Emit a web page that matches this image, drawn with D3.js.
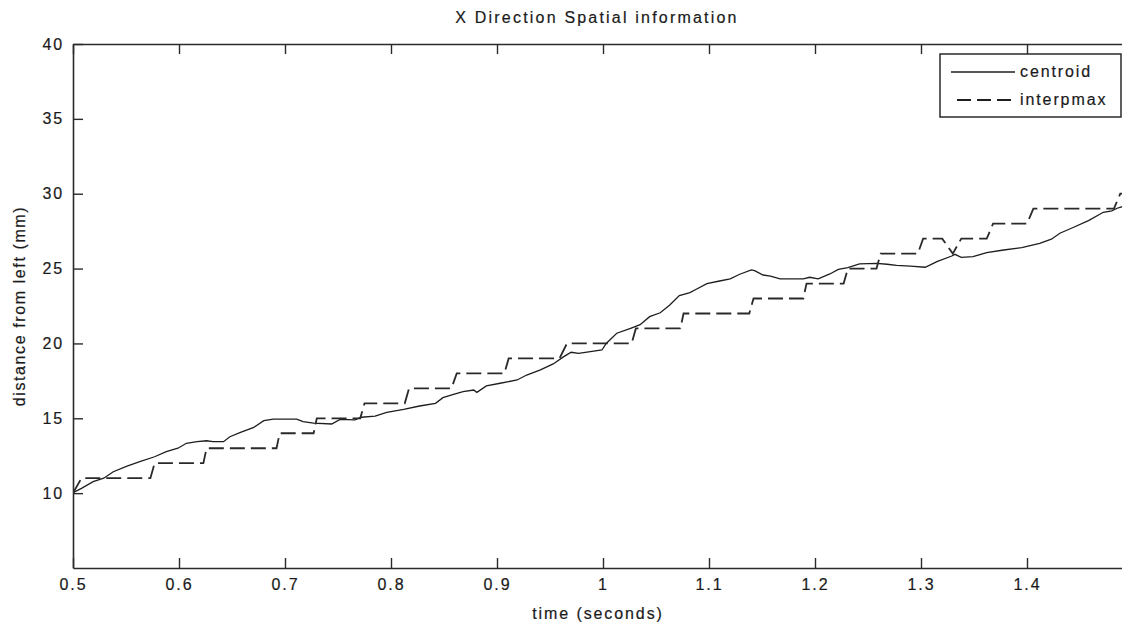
<!DOCTYPE html>
<html>
<head>
<meta charset="utf-8">
<script src="https://cdn.jsdelivr.net/npm/d3@7"></script>
<style>
  html, body { margin: 0; padding: 0; background: #fff; }
  svg text { font-family: "Liberation Sans", Arial, Helvetica, sans-serif; font-size: 16px; fill: #1a1a1a; letter-spacing: 1.9px; stroke: #1a1a1a; stroke-width: 0.2px; }
</style>
</head>
<body>
<svg width="1122" height="627"></svg>
<script>
// centroid: [time (s), distance (mm)]
var centroid = [
  [0.500,10.03],[0.508,10.32],[0.519,10.77],[0.529,11.00],[0.538,11.43],[0.551,11.81],
  [0.563,12.10],[0.577,12.43],[0.588,12.77],[0.599,13.00],[0.607,13.33],[0.617,13.44],
  [0.626,13.50],[0.632,13.44],[0.642,13.44],[0.648,13.77],[0.658,14.06],[0.670,14.37],
  [0.680,14.84],[0.689,14.95],[0.711,14.95],[0.717,14.78],[0.727,14.67],[0.744,14.62],
  [0.752,14.93],[0.766,14.89],[0.772,15.07],[0.785,15.15],[0.796,15.40],[0.812,15.60],
  [0.827,15.82],[0.842,16.00],[0.849,16.38],[0.859,16.60],[0.868,16.78],[0.878,16.89],
  [0.881,16.73],[0.890,17.16],[0.903,17.34],[0.919,17.56],[0.928,17.89],[0.941,18.23],
  [0.953,18.63],[0.963,19.12],[0.970,19.41],[0.977,19.34],[0.988,19.45],[0.999,19.56],
  [1.003,20.00],[1.013,20.68],[1.026,21.01],[1.035,21.25],[1.044,21.79],[1.054,22.05],
  [1.063,22.57],[1.072,23.20],[1.082,23.39],[1.088,23.62],[1.098,23.99],[1.110,24.17],
  [1.120,24.31],[1.129,24.62],[1.140,24.91],[1.143,24.86],[1.151,24.57],[1.158,24.50],
  [1.167,24.31],[1.189,24.31],[1.195,24.42],[1.203,24.31],[1.214,24.64],[1.222,24.95],
  [1.231,25.06],[1.242,25.31],[1.258,25.35],[1.268,25.29],[1.277,25.22],[1.290,25.17],
  [1.304,25.09],[1.315,25.46],[1.329,25.84],[1.332,25.95],[1.338,25.75],[1.349,25.80],
  [1.362,26.06],[1.378,26.24],[1.395,26.40],[1.412,26.69],[1.423,26.96],[1.431,27.36],
  [1.444,27.76],[1.458,28.20],[1.472,28.76],[1.480,28.85],[1.485,29.03],[1.490,29.14]
];

// interpmax: stepped values
var interpmax = [
  [0.500,10],[0.508,11],[0.573,11],[0.577,12],[0.623,12],[0.626,13],[0.692,13],[0.695,14],
  [0.727,14],[0.730,15],[0.771,15],[0.775,16],[0.813,16],[0.817,17],[0.857,17],[0.862,18],
  [0.907,18],[0.911,19],[0.959,19],[0.966,20],[1.027,20],[1.031,21],[1.073,21],[1.076,22],
  [1.138,22],[1.142,23],[1.189,23],[1.192,24],[1.227,24],[1.231,25],[1.258,25],[1.262,26],
  [1.297,26],[1.302,27],[1.320,27],[1.330,26],[1.338,27],[1.362,27],[1.368,28],[1.400,28],
  [1.406,29],[1.482,29],[1.488,30],[1.495,30]
];

var xTicks = [0.5,0.6,0.7,0.8,0.9,1.0,1.1,1.2,1.3,1.4];
var xTickLabels = ["0.5","0.6","0.7","0.8","0.9","1","1.1","1.2","1.3","1.4"];
var yTicks = [10,15,20,25,30,35,40];
var seriesNames = ["centroid","interpmax"];

var svg = d3.select("svg"),
    pLeft = 73, pRight = 1133, pTop = 44, pBottom = 568;

var x = d3.scaleLinear().domain([0.5, 1.5]).range([pLeft, pRight]);
var y = d3.scaleLinear().domain([5, 40]).range([pBottom, pTop]);

svg.append("clipPath").attr("id", "plotclip")
  .append("rect").attr("x", pLeft).attr("y", pTop)
  .attr("width", pRight - pLeft).attr("height", pBottom - pTop);

var line = d3.line()
    .x(function(d) { return x(d[0]); })
    .y(function(d) { return y(d[1]); });

var plot = svg.append("g").attr("clip-path", "url(#plotclip)");

plot.append("path")
  .attr("d", line(centroid))
  .attr("fill", "none")
  .attr("stroke", "#1e1e1e")
  .attr("stroke-width", 1.3);

plot.append("path")
  .attr("d", line(interpmax))
  .attr("fill", "none")
  .attr("stroke", "#2a2a2a")
  .attr("stroke-width", 1.8)
  .attr("stroke-dasharray", "15,6");

// axes (MATLAB style box, ticks inside)
function styleAxis(g) {
  g.selectAll(".domain").attr("stroke", "#2a2a2a").attr("stroke-width", 1.6);
  g.selectAll(".tick line").attr("stroke", "#2a2a2a").attr("stroke-width", 1.4);
  g.selectAll(".tick text").attr("fill", "#1a1a1a").style("font-size", "16px");
  g.attr("font-family", null).attr("font-size", null);
}

svg.append("g")
  .attr("transform", "translate(0," + pBottom + ")")
  .call(d3.axisBottom(x).tickValues(xTicks)
    .tickFormat(function(d, i) { return xTickLabels[i]; })
    .tickSizeInner(-10).tickSizeOuter(0).tickPadding(11))
  .call(styleAxis);

svg.append("g")
  .attr("transform", "translate(0," + pTop + ")")
  .call(d3.axisTop(x).tickValues(xTicks).tickFormat("")
    .tickSizeInner(-10).tickSizeOuter(0))
  .call(styleAxis);

svg.append("g")
  .attr("transform", "translate(" + pLeft + ",0)")
  .call(d3.axisLeft(y).tickValues(yTicks)
    .tickSizeInner(-10).tickSizeOuter(0).tickPadding(9))
  .call(styleAxis);

svg.append("g")
  .attr("transform", "translate(" + pRight + ",0)")
  .call(d3.axisRight(y).tickValues(yTicks).tickFormat("")
    .tickSizeInner(-10).tickSizeOuter(0))
  .call(styleAxis);

// title and labels
svg.append("text")
  .attr("x", 597).attr("y", 23)
  .attr("text-anchor", "middle")
  .style("letter-spacing", "2.2px")
  .text("X Direction Spatial information");

svg.append("text")
  .attr("x", 598).attr("y", 619)
  .attr("text-anchor", "middle")
  .text("time (seconds)");

svg.append("text")
  .attr("transform", "translate(25,306) rotate(-90)")
  .attr("text-anchor", "middle")
  .style("letter-spacing", "1.6px")
  .text("distance from left (mm)");

// legend
var legend = svg.append("g");
legend.append("rect")
  .attr("x", 940).attr("y", 54)
  .attr("width", 181).attr("height", 63)
  .attr("fill", "#fff")
  .attr("stroke", "#2a2a2a")
  .attr("stroke-width", 1.5);

var legendRows = legend.selectAll(".row")
  .data(seriesNames)
  .enter().append("g")
  .attr("class", "row")
  .attr("transform", function(d, i) { return "translate(0," + (72 + i * 28) + ")"; });

legendRows.append("line")
  .attr("x1", function(d, i) { return i === 0 ? 951 : 957; })
  .attr("x2", 1015)
  .attr("stroke", "#1e1e1e")
  .attr("stroke-width", function(d, i) { return i === 0 ? 1.3 : 1.8; })
  .attr("stroke-dasharray", function(d, i) { return i === 0 ? null : "14,6"; });

legendRows.append("text")
  .attr("x", 1020).attr("y", 5)
  .text(function(d) { return d; });
</script>
</body>
</html>
